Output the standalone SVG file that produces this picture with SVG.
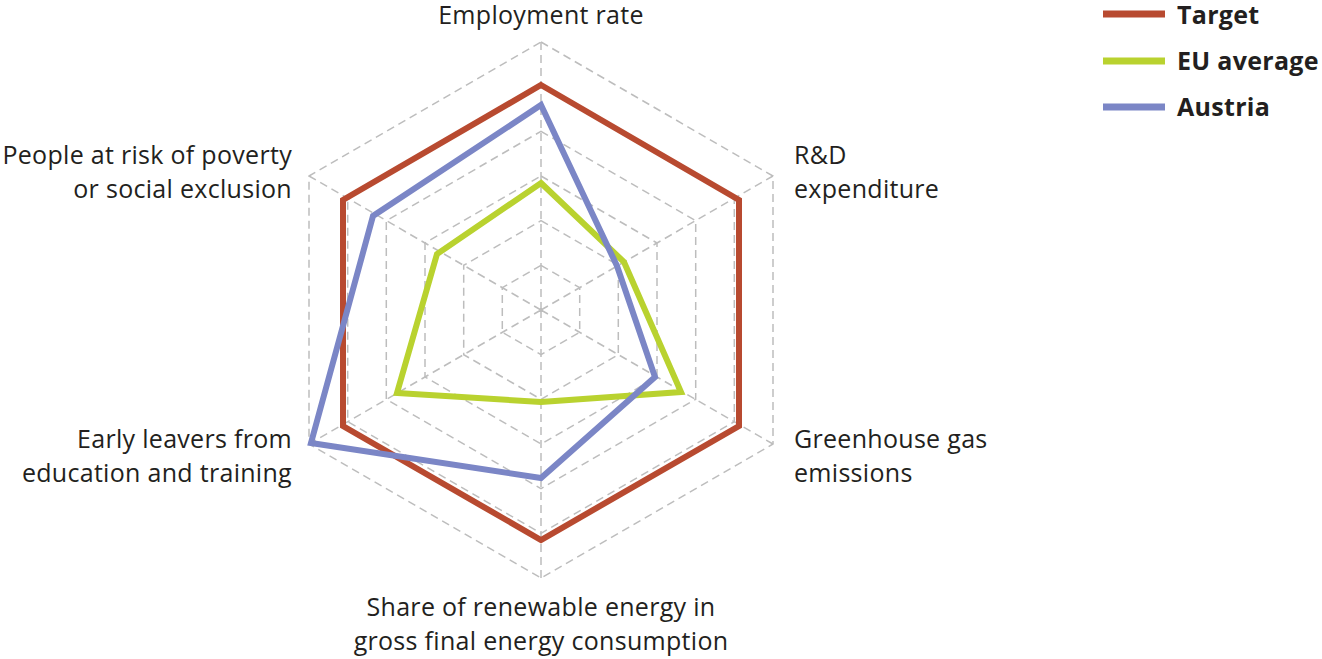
<svg xmlns="http://www.w3.org/2000/svg" width="1322" height="659" viewBox="0 0 1322 659">
<style>
.g{fill:none;stroke:#bdbdbd;stroke-width:1.5;stroke-dasharray:8,5}
.s{fill:none;stroke-width:6;stroke-linejoin:miter}
text{font-family:"Open Sans","Liberation Sans",sans-serif;font-size:25px;letter-spacing:0.3px;fill:#231f20}
.l{font-weight:bold}
</style>
<rect width="1322" height="659" fill="#fff"/>
<g id="grid">
<polygon class="g" points="541,42 773,176 773,444 541,578 309,444 309,176"/>
<polygon class="g" points="541,86.7 734.3,198.3 734.3,421.7 541,533.3 347.7,421.7 347.7,198.3"/>
<polygon class="g" points="541,131.3 695.7,220.7 695.7,399.3 541,488.7 386.3,399.3 386.3,220.7"/>
<polygon class="g" points="541,176 657,243 657,377 541,444 425,377 425,243"/>
<polygon class="g" points="541,220.7 618.3,265.3 618.3,354.7 541,399.3 463.7,354.7 463.7,265.3"/>
<polygon class="g" points="541,265.3 579.7,287.7 579.7,332.3 541,354.7 502.3,332.3 502.3,287.7"/>
<path class="g" d="M541,310L541,42M541,310L773,176M541,310L773,444M541,310L541,578M541,310L309,444M541,310L309,176"/>
</g>
<g id="series">
<polygon id="target" class="s" stroke="#b84a30" points="541,85 739,200 739,426 541,540 343,426 343,200"/>
<polygon id="eu" class="s" stroke="#b9d22f" points="541,183 624,262 681,392 541,402 397,393 437,254"/>
<polygon id="austria" class="s" stroke="#7b86c6" points="541,105 617,266 655,377 541,478 311,443 373,216"/>
</g>
<g id="labels">
<text x="541" y="24" text-anchor="middle">Employment rate</text>
<text x="794" y="164">R&amp;D</text>
<text x="794" y="198">expenditure</text>
<text x="794" y="448">Greenhouse gas</text>
<text x="794" y="482">emissions</text>
<text x="541" y="616" text-anchor="middle">Share of renewable energy in</text>
<text x="541" y="650" text-anchor="middle">gross final energy consumption</text>
<text x="292" y="448" text-anchor="end">Early leavers from</text>
<text x="292" y="482" text-anchor="end">education and training</text>
<text x="292" y="164" text-anchor="end">People at risk of poverty</text>
<text x="292" y="198" text-anchor="end">or social exclusion</text>
</g>
<g id="legend">
<line x1="1103" y1="14" x2="1165" y2="14" stroke="#b84a30" stroke-width="7"/>
<text class="l" x="1177" y="24">Target</text>
<line x1="1103" y1="61" x2="1165" y2="61" stroke="#b9d22f" stroke-width="7"/>
<text class="l" x="1177" y="70">EU average</text>
<line x1="1103" y1="107" x2="1165" y2="107" stroke="#7b86c6" stroke-width="7"/>
<text class="l" x="1177" y="116">Austria</text>
</g>
</svg>
